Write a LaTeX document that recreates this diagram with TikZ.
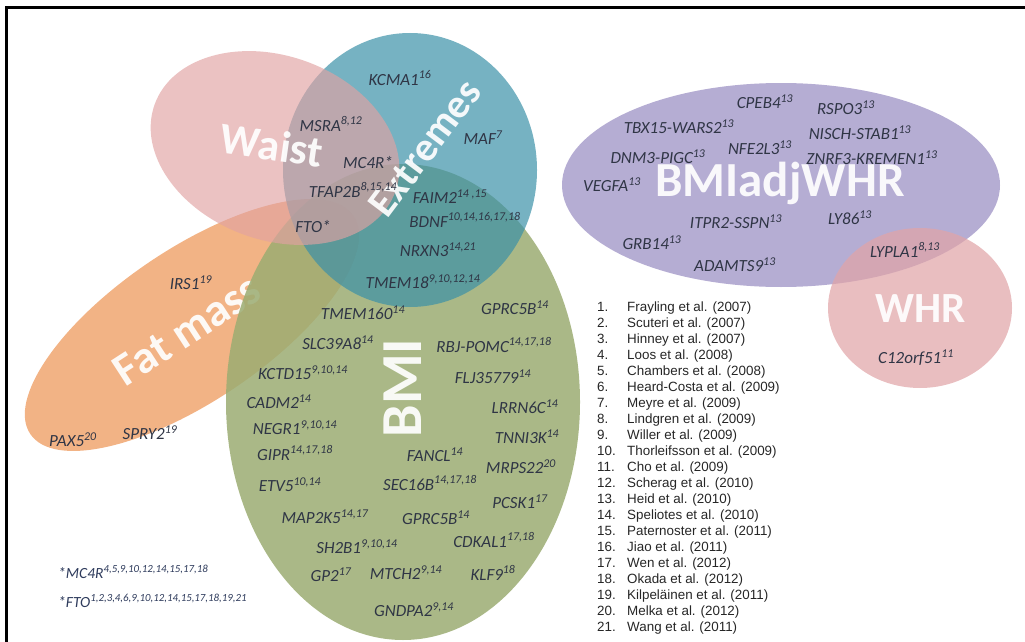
\documentclass[tikz,border=0pt]{standalone}
\usepackage{fontspec}
\setmainfont{Carlito}
\newfontfamily\arialfont{Liberation Sans}
\usetikzlibrary{positioning}

\definecolor{waistpink}{RGB}{225,162,162}
\definecolor{extremteal}{RGB}{60,145,168}
\definecolor{bmigreen}{RGB}{155,172,114}
\definecolor{fatorange}{RGB}{237,149,86}
\definecolor{adjlilac}{RGB}{163,152,200}
\definecolor{whrpink}{RGB}{225,165,168}
\definecolor{genetext}{RGB}{47,53,69}
\definecolor{footnavy}{RGB}{46,59,92}

\newcommand\gn[2]{#1\textsuperscript{#2}}

\tikzset{
  blob/.style={draw=none, fill opacity=0.72},
  gene/.style={font=\itshape\fontsize{17}{20}\selectfont, text=genetext, inner sep=0pt},
  biglabel/.style={font=\bfseries\fontsize{44}{48}\selectfont, text=white, text opacity=0.92, inner sep=0pt},
  footgene/.style={font=\itshape\fontsize{15.5}{18}\selectfont, text=footnavy, inner sep=0pt, anchor=base west},
  refnum/.style={font=\arialfont\fontsize{13.4}{16}\selectfont, text=black!85, inner sep=0pt, anchor=base west},
  refitem/.style={font=\arialfont\fontsize{13.4}{16}\selectfont, text=black!85, inner sep=0pt, anchor=base west}
}

\begin{document}
\begin{tikzpicture}[x=1pt,y=-1pt]

    \useasboundingbox (0,0) rectangle (1025,642);

    % FRAME
    \draw[line width=3pt] (1025,7.5) -- (6.5,7.5) -- (6.5,642);

    % TRAIT SETS
    \fill[blob, fatorange, rotate around={34:(192,325)}] (192,325) ellipse [x radius=195, y radius=76];
    \node[biglabel, rotate=33, font=\bfseries\fontsize{46}{50}\selectfont] (fatlbl) at (187,330) {Fat mass};
    \fill[blob, bmigreen, fill opacity=0.85] (403,402) ellipse [x radius=177, y radius=238];
    \fill[blob, extremteal, fill opacity=0.7] (410,170) ellipse [x radius=127, y radius=137];
    \fill[blob, waistpink, fill opacity=0.65, rotate around={-20:(275,148)}] (275,148) ellipse [x radius=128, y radius=92];
    \fill[blob, adjlilac, fill opacity=0.8] (781,185) ellipse [x radius=219, y radius=102];
    \fill[blob, whrpink, fill opacity=0.72] (920,308) ellipse [x radius=92, y radius=80];

    % BIG LABELS
    \node[biglabel, rotate=-8] (waistlbl) at (272,145) {Waist};
    \node[biglabel, rotate=53, font=\bfseries\fontsize{41}{44}\selectfont] (extrlbl) at (425,148) {Extremes};
    \node[biglabel, rotate=90, font=\bfseries\fontsize{58}{60}\selectfont] (bmilbl) at (403,388) {BMI};
    \node[biglabel, font=\bfseries\fontsize{49}{52}\selectfont] (adjlbl) at (780,183) {BMIadjWHR};
    \node[biglabel, font=\bfseries\fontsize{43}{46}\selectfont] (whrlbl) at (921,309) {WHR};

    % WAIST / EXTREMES GENES
    \node[gene] (kcma1) at (400,78) {\gn{KCMA1}{16}};
    \node[gene] (msra) at (331,124) {\gn{MSRA}{8,12}};
    \node[gene] (mc4r) at (368,163) {MC4R*};
    \node[gene] (maf) at (483,138) {\gn{MAF}{7}};
    \node[gene] (tfap2b) at (353,190) {\gn{TFAP2B}{8,15,14}};
    \node[gene] (faim2) at (450,197) {\gn{FAIM2}{14 ,15}};
    \node[gene] (bdnf) at (465,220) {\gn{BDNF}{10,14,16,17,18}};
    \node[gene] (fto) at (313,227) {FTO*};
    \node[gene] (nrxn3) at (438,250) {\gn{NRXN3}{14,21}};
    \node[gene] (tmem18) at (423,282) {\gn{TMEM18}{9,10,12,14}};

    % FAT MASS GENES
    \node[gene] (irs1) at (191,283) {\gn{IRS1}{19}};
    \node[gene] (spry2) at (150,433) {\gn{SPRY2}{19}};
    \node[gene] (pax5) at (73,440) {\gn{PAX5}{20}};

    % BMI GENES
    \node[gene] (tmem160) at (363,313) {\gn{TMEM160}{14}};
    \node[gene] (gprc5ba) at (515,308) {\gn{GPRC5B}{14}};
    \node[gene] (slc39a8) at (338,343) {\gn{SLC39A8}{14}};
    \node[gene] (rbjpomc) at (494,345) {\gn{RBJ-POMC}{14,17,18}};
    \node[gene] (kctd15) at (303,373) {\gn{KCTD15}{9,10,14}};
    \node[gene] (flj35779) at (493,377) {\gn{FLJ35779}{14}};
    \node[gene] (cadm2) at (279,402) {\gn{CADM2}{14}};
    \node[gene] (lrrn6c) at (525,407) {\gn{LRRN6C}{14}};
    \node[gene] (negr1) at (295,428) {\gn{NEGR1}{9,10,14}};
    \node[gene] (tnni3k) at (527,437) {\gn{TNNI3K}{14}};
    \node[gene] (gipr) at (295,453) {\gn{GIPR}{14,17,18}};
    \node[gene] (fancl) at (435,455) {\gn{FANCL}{14}};
    \node[gene] (mrps22) at (521,467) {\gn{MRPS22}{20}};
    \node[gene] (etv5) at (290,485) {\gn{ETV5}{10,14}};
    \node[gene] (sec16b) at (430,483) {\gn{SEC16B}{14,17,18}};
    \node[gene] (pcsk1) at (520,502) {\gn{PCSK1}{17}};
    \node[gene] (map2k5) at (325,517) {\gn{MAP2K5}{14,17}};
    \node[gene] (gprc5bb) at (436,518) {\gn{GPRC5B}{14}};
    \node[gene] (cdkal1) at (494,540) {\gn{CDKAL1}{17,18}};
    \node[gene] (sh2b1) at (357,547) {\gn{SH2B1}{9,10,14}};
    \node[gene] (gp2) at (331,575) {\gn{GP2}{17}};
    \node[gene] (mtch2) at (406,573) {\gn{MTCH2}{9,14}};
    \node[gene] (klf9) at (493,573) {\gn{KLF9}{18}};
    \node[gene] (gndpa2) at (414,610) {\gn{GNDPA2}{9,14}};

    % BMIADJWHR / WHR GENES
    \node[gene] (cpeb4) at (765,102) {\gn{CPEB4}{13}};
    \node[gene] (rspo3) at (846,108) {\gn{RSPO3}{13}};
    \node[gene] (tbx15) at (679,127) {\gn{TBX15-WARS2}{13}};
    \node[gene] (nisch) at (860,133) {\gn{NISCH-STAB1}{13}};
    \node[gene] (dnm3) at (658,157) {\gn{DNM3-PIGC}{13}};
    \node[gene] (nfe2l3) at (760,148) {\gn{NFE2L3}{13}};
    \node[gene] (znrf3) at (872,158) {\gn{ZNRF3-KREMEN1}{13}};
    \node[gene] (vegfa) at (612,185) {\gn{VEGFA}{13}};
    \node[gene] (itpr2) at (736,222) {\gn{ITPR2-SSPN}{13}};
    \node[gene] (ly86) at (850,218) {\gn{LY86}{13}};
    \node[gene] (grb14) at (652,243) {\gn{GRB14}{13}};
    \node[gene] (lypla1) at (905,250) {\gn{LYPLA1}{8,13}};
    \node[gene] (adamts9) at (735,265) {\gn{ADAMTS9}{13}};
    \node[gene] (c12orf51) at (916,358) {\gn{C12orf51}{11}};

    % FOOTNOTES
    \node[footgene] (mc4rfoot) at (58,578) {*\gn{MC4R}{4,5,9,10,12,14,15,17,18}};
    \node[footgene] (ftofoot) at (58,607) {*\gn{FTO}{1,2,3,4,6,9,10,12,14,15,17,18,19,21}};

    % REFERENCES
    \foreach \paper [count=\i] in {Frayling et al. (2007), Scuteri et al. (2007), Hinney et al. (2007),
        Loos et al. (2008), Chambers et al. (2008), Heard-Costa et al. (2009), Meyre et al. (2009),
        Lindgren et al. (2009), Willer et al. (2009), Thorleifsson et al. (2009), Cho et al. (2009),
        Scherag et al. (2010), Heid et al. (2010), Speliotes et al. (2010), Paternoster et al. (2011),
        Jiao et al. (2011), Wen et al. (2012), Okada et al. (2012), Kilpeläinen et al. (2011),
        Melka et al. (2012), Wang et al. (2011)}{
      \node[refnum] (num\i) at (597,{311+16*(\i-1)}) {\i.};
      \node[refitem] (ref\i) at (627,{311+16*(\i-1)}) {\paper};
    }

\end{tikzpicture}
\end{document}
